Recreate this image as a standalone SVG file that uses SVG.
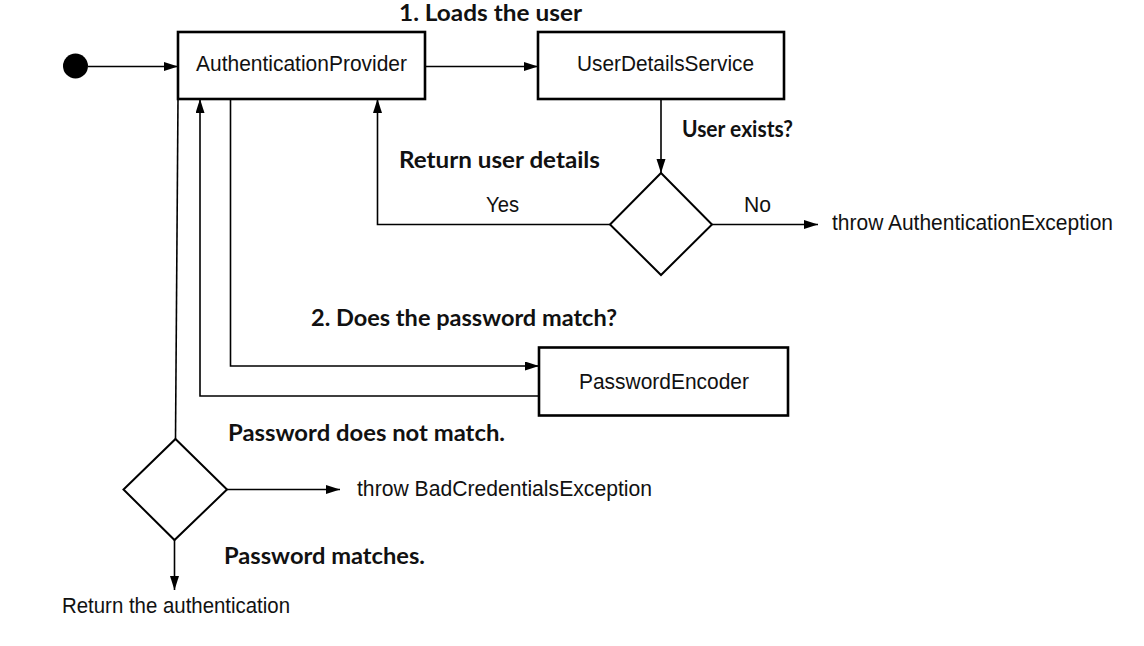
<svg xmlns="http://www.w3.org/2000/svg" width="1144" height="646" viewBox="0 0 1144 646">
<defs>
<marker id="arr" markerUnits="userSpaceOnUse" markerWidth="15" markerHeight="10" refX="14" refY="4.5" orient="auto">
<path d="M0,0 L14,4.5 L0,9 z" fill="#000"/>
</marker>
<style>
.box{fill:#fff;stroke:#000;stroke-width:2.6}
.dia{fill:#fff;stroke:#000;stroke-width:2}
.ln{fill:none;stroke:#000;stroke-width:1.6}
.arr{marker-end:url(#arr)}
.t{font-family:"Liberation Sans",Arial,sans-serif;font-size:21.5px;fill:#111}
.b{font-family:Lato,"Open Sans",sans-serif;font-weight:bold;font-size:23px;fill:#111}
</style>
</defs>
<rect width="1144" height="646" fill="#fff"/>
<g id="connectors">
<path class="ln arr" d="M88,66.5 L178,66.5"/>
<path class="ln arr" d="M425,66.5 L538,66.5"/>
<path class="ln arr" d="M661,99 L661,173"/>
<path class="ln arr" d="M610,224.5 L377.5,224.5 L377.5,99"/>
<path class="ln arr" d="M712,224.5 L818,224.5"/>
<path class="ln arr" d="M230.5,99 L230.5,366 L539,366"/>
<path class="ln arr" d="M539,396 L200,396 L200,99"/>
<path class="ln" d="M178,99 L175.5,439"/>
<path class="ln arr" d="M227,489.5 L340,489.5"/>
<path class="ln arr" d="M174.5,540 L174.5,590"/>
</g>
<g id="start"><circle cx="75.5" cy="66" r="12.5" fill="#000"/></g>
<g id="authProvider">
<rect class="box" x="178" y="32" width="247" height="67"/>
<text class="t" x="196" y="71" textLength="211" lengthAdjust="spacingAndGlyphs">AuthenticationProvider</text>
</g>
<g id="userDetailsService">
<rect class="box" x="538" y="32" width="246" height="67"/>
<text class="t" x="577" y="71" textLength="177" lengthAdjust="spacingAndGlyphs">UserDetailsService</text>
</g>
<g id="userExists">
<polygon class="dia" points="661,173 712,224.5 661,275 610,224.5"/>
</g>
<g id="passwordEncoder">
<rect class="box" x="539" y="347.5" width="249" height="68"/>
<text class="t" x="579" y="389" textLength="170" lengthAdjust="spacingAndGlyphs">PasswordEncoder</text>
</g>
<g id="passwordMatch">
<polygon class="dia" points="175.5,439 227,489.5 174.5,540 123.5,489.5"/>
</g>
<g id="labels">
<text class="b" x="399" y="21" textLength="183" lengthAdjust="spacingAndGlyphs">1. Loads the user</text>
<text class="b" x="682" y="137" textLength="111" lengthAdjust="spacingAndGlyphs">User exists?</text>
<text class="b" x="399" y="168" textLength="201" lengthAdjust="spacingAndGlyphs">Return user details</text>
<text class="t" x="486" y="212" textLength="33" lengthAdjust="spacingAndGlyphs">Yes</text>
<text class="t" x="744" y="212" textLength="27" lengthAdjust="spacingAndGlyphs">No</text>
<text class="t" x="832" y="230" textLength="281" lengthAdjust="spacingAndGlyphs">throw AuthenticationException</text>
<text class="b" x="311" y="326" textLength="306" lengthAdjust="spacingAndGlyphs">2. Does the password match?</text>
<text class="b" x="228" y="441" textLength="277" lengthAdjust="spacingAndGlyphs">Password does not match.</text>
<text class="t" x="357" y="496" textLength="295" lengthAdjust="spacingAndGlyphs">throw BadCredentialsException</text>
<text class="b" x="224" y="564" textLength="201" lengthAdjust="spacingAndGlyphs">Password matches.</text>
<text class="t" x="62" y="613" textLength="228" lengthAdjust="spacingAndGlyphs">Return the authentication</text>
</g>
</svg>
